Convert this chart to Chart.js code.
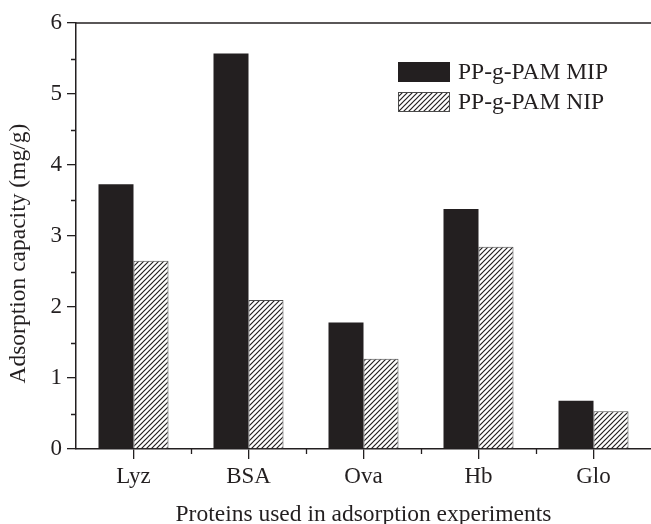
<!DOCTYPE html>
<html>
<head>
<meta charset="utf-8">
<script src="https://cdn.jsdelivr.net/npm/chart.js@4"></script>
<style>
  html, body { margin: 0; padding: 0; background: #fff; }
  #proteinChart { display: block; }
</style>
</head>
<body>
<canvas id="proteinChart" width="651" height="524"></canvas>
<script>
const categories = ['Lyz', 'BSA', 'Ova', 'Hb', 'Glo'];
const mipValues = [3.73, 5.57, 1.78, 3.38, 0.68];
const nipValues = [2.65, 2.10, 1.27, 2.85, 0.53];
const seriesNames = ['PP-g-PAM MIP', 'PP-g-PAM NIP'];
const yMin = 0, yMax = 6, yStep = 1;

const ink = '#231f20';
const serif = '"Liberation Serif", "Times New Roman", serif';

let ctx = document.getElementById('proteinChart').getContext('2d');

/** diagonal hatch used for the NIP bars */
function makeHatch() {
  const c = document.createElement('canvas');
  const s = 5;
  c.width = s; c.height = s;
  const g = c.getContext('2d');
  g.fillStyle = '#fff';
  g.fillRect(0, 0, s, s);
  g.strokeStyle = ink;
  g.lineWidth = 1.2;
  g.beginPath();
  g.moveTo(0, s); g.lineTo(s, 0);
  g.moveTo(-1, 1); g.lineTo(1, -1);
  g.moveTo(s - 1, s + 1); g.lineTo(s + 1, s - 1);
  g.stroke();
  return ctx.createPattern(c, 'repeat');
}
const hatch = makeHatch();

/** top frame line, minor ticks and the legend box */
const decorations = {
  id: 'decorations',
  afterDraw(chart) {
    const g = chart.ctx;
    const area = chart.chartArea;
    const xs = chart.scales.x, ys = chart.scales.y;
    g.save();
    g.strokeStyle = ink;
    g.lineWidth = 1.5;
    g.beginPath();
    g.moveTo(area.left, area.top);
    g.lineTo(area.right, area.top);
    g.stroke();

    g.lineWidth = 1.3;
    g.beginPath();
    for (let v = yMin + yStep / 2; v < yMax; v += yStep) {
      const y = Math.round(ys.getPixelForValue(v)) + 0.5;
      g.moveTo(area.left - 5, y);
      g.lineTo(area.left, y);
    }
    for (let i = 1; i < categories.length; i++) {
      const x = Math.round((xs.getPixelForValue(i - 1) + xs.getPixelForValue(i)) / 2) + 0.5;
      g.moveTo(x, area.bottom);
      g.lineTo(x, area.bottom + 5);
    }
    g.stroke();

    // legend
    const bx = 398, by = 62, bw = 52, bh = 20, gap = 30;
    g.font = '23.5px ' + serif;
    g.textBaseline = 'middle';
    g.textAlign = 'left';
    chart.data.datasets.forEach((ds, i) => {
      const y = by + i * gap;
      g.fillStyle = ds.backgroundColor;
      g.fillRect(bx, y, bw, bh);
      g.lineWidth = 1;
      g.strokeStyle = ds.borderColor;
      g.strokeRect(bx + 0.5, y + 0.5, bw - 1, bh - 1);
      g.fillStyle = ink;
      g.fillText(ds.label, bx + bw + 8, y + bh / 2 + 1);
    });
    g.restore();
  }
};

const data = {
  labels: categories,
  datasets: [{
    label: seriesNames[0],
    data: mipValues,
    backgroundColor: ink,
    borderColor: ink,
    borderWidth: 0
  }, {
    label: seriesNames[1],
    data: nipValues,
    backgroundColor: hatch,
    borderColor: '#4a4a4a',
    borderWidth: 1
  }]
};

const config = {
  type: 'bar',
  data: data,
  options: {
    responsive: false,
    animation: false,
    barPercentage: 1,
    categoryPercentage: 70 / 115,
    layout: { padding: { top: 23, right: 0, bottom: 0, left: 0 } },
    plugins: {
      legend: { display: false },
      tooltip: { enabled: false }
    },
    scales: {
      x: {
        offset: true,
        grid: { drawOnChartArea: false, offset: false, tickLength: 10, color: ink, lineWidth: 1.3 },
        border: { color: ink, width: 1.5 },
        ticks: { color: ink, font: { family: serif, size: 23 }, padding: 4 },
        title: {
          display: true,
          text: 'Proteins used in adsorption experiments',
          color: ink,
          font: { family: serif, size: 23.5 },
          padding: { top: 0, bottom: -5 }
        },
        afterFit(scale) { scale.height = 75; }
      },
      y: {
        min: yMin,
        max: yMax,
        grid: { drawOnChartArea: false, tickLength: 9, color: ink, lineWidth: 1.3 },
        border: { color: ink, width: 1.5 },
        ticks: { stepSize: yStep, color: ink, font: { family: serif, size: 23 }, padding: 5 },
        title: {
          display: true,
          text: 'Adsorption capacity (mg/g)      ',
          color: ink,
          font: { family: serif, size: 23.5 },
          padding: { top: 5, bottom: 0 }
        },
        afterFit(scale) { scale.width = 76; }
      }
    }
  },
  plugins: [decorations]
};

let chart = new Chart(ctx, config);
</script>
</body>
</html>
